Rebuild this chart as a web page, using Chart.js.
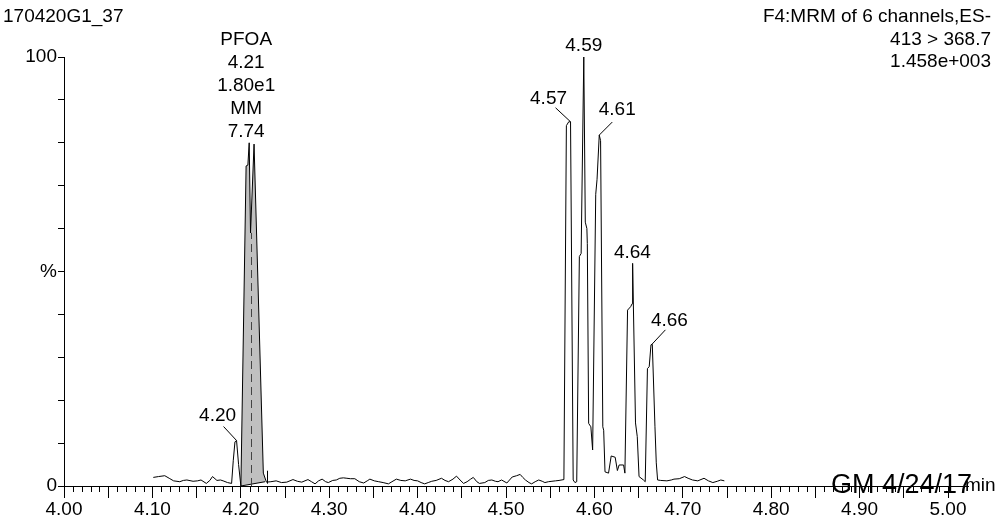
<!DOCTYPE html>
<html>
<head>
<meta charset="utf-8">
<script src="https://cdn.jsdelivr.net/npm/chart.js@4/dist/chart.umd.min.js"></script>
<style>
  html, body { margin: 0; padding: 0; background: #fff; }
  #wrap { width: 996px; height: 520px; position: relative; }
</style>
</head>
<body>
<div id="wrap"><canvas id="chrom"></canvas></div>
<script>
// MRM trace, retention time (min) and relative intensity (%)
const times = [
  4.101, 4.107, 4.114, 4.119, 4.124, 4.131, 4.135, 4.139, 4.146, 4.151,
  4.155, 4.161, 4.165, 4.168, 4.173, 4.177, 4.180, 4.185, 4.1896, 4.1915,
  4.1934, 4.1952, 4.1975, 4.2001, 4.2060, 4.2080, 4.2095, 4.2110, 4.2150, 4.2255,
  4.2290, 4.234, 4.240, 4.246, 4.252, 4.259, 4.264, 4.269, 4.276, 4.280,
  4.284, 4.288, 4.292, 4.296, 4.299, 4.304, 4.308, 4.312, 4.316, 4.320,
  4.324, 4.329, 4.334, 4.339, 4.343, 4.346, 4.351, 4.356, 4.361, 4.367,
  4.371, 4.376, 4.381, 4.386, 4.392, 4.396, 4.400, 4.404, 4.408, 4.412,
  4.416, 4.421, 4.427, 4.431, 4.435, 4.440, 4.444, 4.448, 4.452, 4.456,
  4.460, 4.463, 4.467, 4.470, 4.476, 4.480, 4.484, 4.488, 4.491, 4.495,
  4.501, 4.507, 4.512, 4.516, 4.519, 4.522, 4.526, 4.529, 4.533, 4.537,
  4.541, 4.544, 4.548, 4.552, 4.556, 4.560, 4.5655, 4.5683, 4.5710, 4.5730,
  4.5760, 4.5780, 4.5800, 4.5830, 4.5850, 4.5880, 4.5897, 4.5915, 4.5920, 4.5935,
  4.5960, 4.5980, 4.6015, 4.6030, 4.6055, 4.6070, 4.6095, 4.6105, 4.6120, 4.6160,
  4.6190, 4.6235, 4.6260, 4.6280, 4.6330, 4.6345, 4.6375, 4.6410, 4.6427, 4.6430,
  4.6435, 4.6465, 4.6485, 4.6505, 4.6555, 4.6575, 4.6600, 4.6620, 4.6640, 4.6655,
  4.6685, 4.6700, 4.6715, 4.675, 4.682, 4.687, 4.690, 4.696, 4.702, 4.706,
  4.711, 4.717, 4.724, 4.729, 4.734, 4.739, 4.743, 4.747
];
const intensity = [
  2.0, 2.2, 2.4, 1.8, 1.2, 1.0, 1.3, 1.4, 1.1, 1.2,
  1.4, 0.6, 1.3, 2.2, 1.3, 1.4, 1.2, 0.8, 0.6, 6.0,
  10.3, 10.6, 5.0, 0.0, 74.6, 74.8, 80.0, 59.0, 79.7, 3.0,
  0.9, 1.0, 1.2, 0.8, 0.9, 1.5, 1.1, 0.9, 1.5, 1.0,
  0.5, 1.2, 1.6, 1.0, 0.8, 1.3, 1.4, 1.8, 1.9, 1.8,
  1.7, 1.7, 1.0, 0.7, 1.2, 1.6, 1.2, 1.0, 0.8, 0.5,
  1.0, 1.6, 1.3, 1.2, 1.6, 1.3, 1.2, 0.8, 0.5, 0.8,
  1.1, 1.3, 1.8, 1.3, 1.0, 1.6, 2.3, 1.4, 0.6, 1.0,
  1.6, 2.0, 1.0, 0.6, 0.8, 1.3, 1.4, 1.1, 1.0, 1.4,
  0.7, 2.1, 2.4, 2.7, 2.0, 1.4, 0.8, 0.5, 1.0, 1.4,
  1.1, 0.8, 1.0, 1.1, 1.2, 1.3, 1.5, 84.0, 84.9, 84.9,
  1.4, 0.8, 1.0, 53.5, 54.2, 100, 61.5, 60.0, 56.5, 14.6,
  13.8, 8.4, 68.0, 71.5, 81.8, 80.5, 13.8, 13.0, 3.3, 3.0,
  7.0, 6.7, 3.6, 4.9, 4.9, 3.0, 41.0, 41.8, 42.5, 51.9,
  51.7, 14.7, 11.5, 2.2, 1.4, 1.0, 27.4, 27.8, 32.9, 33.0,
  13.8, 5.4, 1.4, 1.3, 1.2, 1.4, 1.6, 1.7, 2.2, 1.8,
  1.4, 1.2, 1.8, 1.2, 0.8, 1.1, 1.4, 1.2
];

// labelled peak apexes
const peakLabels = ['4.20', '4.57', '4.59', '4.61', '4.64', '4.66'];
const peakApexTime = [4.1952, 4.5730, 4.5880, 4.6055, 4.6430, 4.6645];
const peakApexValue = [10.6, 84.9, 100, 81.8, 51.9, 32.9];

// integrated PFOA peak
const pfoaLines = ['PFOA', '4.21', '1.80e1', 'MM', '7.74'];
const pfoaApex = [4.2095, 80.0];
const pfoaRT = 4.211;
const integTimes = [4.2001, 4.2275];
const integBase = [0, 1.0];

// axis ticks
const yTickLabels = { 100: '100', 50: '%', 0: '0' };
const xMinorStep = 0.01;

// header / footer text
const sampleName = '170420G1_37';
const functionLines = ['F4:MRM of 6 channels,ES-', '413 > 368.7', '1.458e+003'];
const stampText = 'GM 4/24/17';
const unitText = 'min';

const FONT = "'Liberation Sans', Arial, Helvetica, sans-serif";

function traceAt(t) {
  for (let i = 1; i < times.length; i++) {
    if (times[i] >= t) {
      const f = (t - times[i - 1]) / (times[i] - times[i - 1]);
      return intensity[i - 1] + f * (intensity[i] - intensity[i - 1]);
    }
  }
  return intensity[intensity.length - 1];
}

// label placement relative to apex, in pixels [textDx, textDy, leaderDx, leaderDy]
const labelOffsets = [
  [-19, -25, -13, -14],
  [-22, -23, -15, -14],
  [0, -11, null, null],
  [18, -25, 13, -13],
  [0, -11, null, null],
  [18, -24, 14, -15]
];

const chromPlugin = {
  id: 'chrom',
  beforeDatasetsDraw(chart) {
    const { ctx, scales: { x, y } } = chart;
    // grey integrated area
    ctx.save();
    ctx.beginPath();
    ctx.moveTo(x.getPixelForValue(integTimes[0]), y.getPixelForValue(integBase[0]));
    times.forEach((t, i) => {
      if (t > integTimes[0] && t < integTimes[1]) {
        ctx.lineTo(x.getPixelForValue(t), y.getPixelForValue(intensity[i]));
      }
    });
    ctx.lineTo(x.getPixelForValue(integTimes[1]), y.getPixelForValue(traceAt(integTimes[1])));
    ctx.lineTo(x.getPixelForValue(integTimes[1]), y.getPixelForValue(integBase[1]));
    ctx.closePath();
    ctx.fillStyle = '#c0c0c0';
    ctx.fill();
    ctx.restore();
  },
  afterDatasetsDraw(chart) {
    const { ctx, chartArea, scales: { x, y } } = chart;
    ctx.save();
    ctx.strokeStyle = '#000';
    ctx.lineWidth = 1;

    // integration baseline and end marker
    const bx0 = x.getPixelForValue(integTimes[0]);
    const by0 = y.getPixelForValue(integBase[0]);
    const bx1 = x.getPixelForValue(integTimes[1]);
    const by1 = y.getPixelForValue(integBase[1]);
    ctx.beginPath();
    ctx.moveTo(bx0, by0);
    ctx.lineTo(bx1, by1);
    ctx.stroke();
    ctx.beginPath();
    ctx.moveTo(Math.round(bx1 + 2) + 0.5, by1 + 2);
    ctx.lineTo(Math.round(bx1 + 2) + 0.5, by1 - 11);
    ctx.stroke();

    // dashed retention time line
    const rx = Math.round(x.getPixelForValue(pfoaRT)) + 0.5;
    ctx.save();
    ctx.strokeStyle = '#444';
    ctx.setLineDash([8, 5]);
    ctx.beginPath();
    ctx.moveTo(rx, y.getPixelForValue(0));
    ctx.lineTo(rx, y.getPixelForValue(traceAt(pfoaRT)));
    ctx.stroke();
    ctx.restore();

    // minor x ticks every 0.01 min
    const bottom = chartArea.bottom;
    ctx.beginPath();
    for (let i = 0; i <= 100; i++) {
      if (i % 5 === 0) continue;
      const px = Math.round(x.getPixelForValue(x.min + i * xMinorStep)) + 0.5;
      ctx.moveTo(px, bottom);
      ctx.lineTo(px, bottom + 6);
    }
    // axis runs on past 5.00 up to the unit
    ctx.moveTo(chartArea.right, Math.round(bottom) + 0.5);
    ctx.lineTo(969, Math.round(bottom) + 0.5);
    ctx.stroke();

    ctx.fillStyle = '#000';
    ctx.font = '19px ' + FONT;
    ctx.textBaseline = 'middle';

    // peak labels
    ctx.textAlign = 'center';
    peakLabels.forEach((lab, i) => {
      const ax = x.getPixelForValue(peakApexTime[i]);
      const ay = y.getPixelForValue(peakApexValue[i]);
      const o = labelOffsets[i];
      ctx.fillText(lab, ax + o[0], ay + o[1]);
      if (o[2] !== null) {
        ctx.beginPath();
        ctx.moveTo(ax + o[2], ay + o[3]);
        ctx.lineTo(ax, ay);
        ctx.stroke();
      }
    });

    // PFOA stack
    const px0 = x.getPixelForValue(pfoaApex[0]) - 3;
    const py0 = y.getPixelForValue(pfoaApex[1]) - 11;
    pfoaLines.forEach((s, i) => {
      ctx.fillText(s, px0, py0 - (pfoaLines.length - 1 - i) * 23);
    });

    // header
    ctx.textAlign = 'left';
    ctx.fillText(sampleName, 3, 17);
    ctx.textAlign = 'right';
    functionLines.forEach((s, i) => ctx.fillText(s, 991, 17 + i * 22.5));

    // unit + stamp
    ctx.textAlign = 'left';
    ctx.fillText(unitText, 965, bottom);
    ctx.font = '27px ' + FONT;
    ctx.fillText(stampText, 831, bottom);
    ctx.restore();
  }
};

new Chart(document.getElementById('chrom'), {
  type: 'line',
  data: {
    datasets: [{
      data: times.map((t, i) => ({ x: t, y: intensity[i] })),
      borderColor: '#000',
      borderWidth: 1,
      pointRadius: 0,
      tension: 0,
      fill: false
    }]
  },
  options: {
    responsive: true,
    maintainAspectRatio: false,
    animation: false,
    layout: { padding: { top: 57, right: 48, left: 0, bottom: 0 } },
    plugins: { legend: { display: false }, tooltip: { enabled: false } },
    scales: {
      x: {
        type: 'linear',
        min: 4, max: 5,
        afterFit: (s) => { s.height = 34; },
        border: { color: '#000', width: 1 },
        grid: { drawOnChartArea: false, color: '#000', tickLength: 12 },
        ticks: {
          stepSize: 0.05,
          autoSkip: false,
          maxRotation: 0,
          padding: 0,
          color: '#000',
          font: { family: FONT, size: 19 },
          callback: (v) => (Math.round(v * 100) % 10 === 0 ? Number(v).toFixed(2) : '')
        }
      },
      y: {
        min: 0, max: 100,
        afterFit: (s) => { s.width = 64; },
        border: { color: '#000', width: 1 },
        grid: { drawOnChartArea: false, color: '#000', tickLength: 6 },
        ticks: {
          stepSize: 10,
          padding: 1,
          color: '#000',
          font: { family: FONT, size: 19 },
          callback: (v) => (yTickLabels[v] !== undefined ? yTickLabels[v] : '')
        }
      }
    }
  },
  plugins: [chromPlugin]
});
</script>
</body>
</html>
